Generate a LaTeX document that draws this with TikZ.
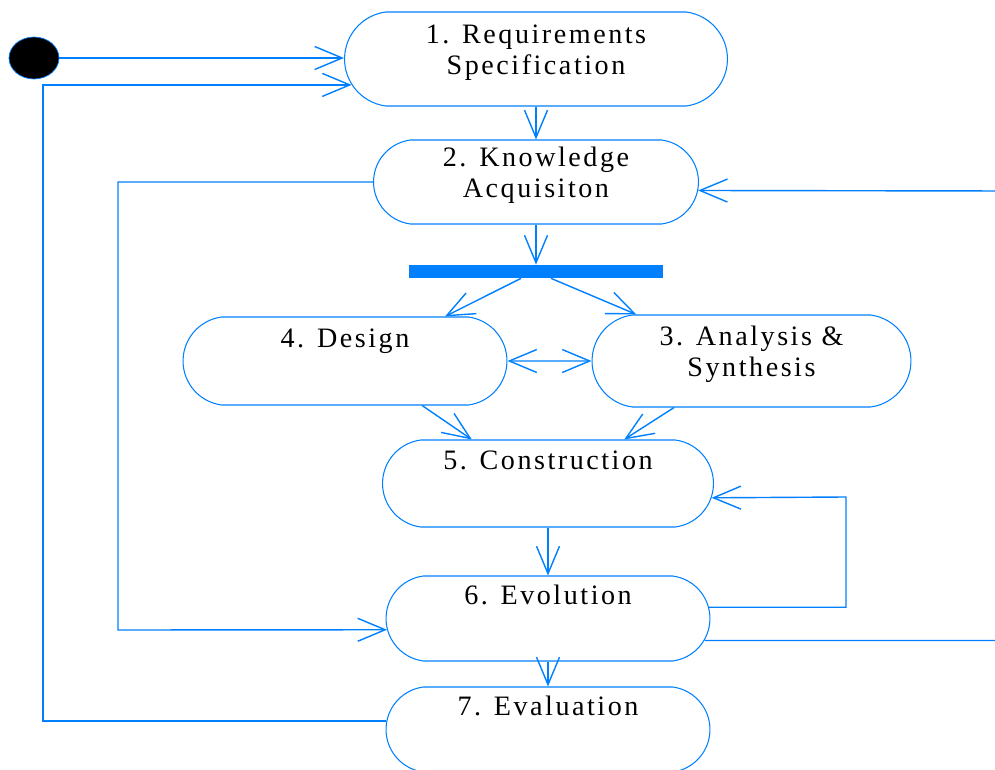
\documentclass[tikz,border=0pt]{standalone}
\usepackage{fontspec}
\newfontfamily\statefont[LetterSpace=9]{Liberation Serif}
\usetikzlibrary{arrows.meta,shapes.misc,shapes.geometric}
\definecolor{umlblue}{RGB}{0,128,255}

\begin{document}
\begin{tikzpicture}[
  x=0.02cm, y=-0.02cm,
  font=\statefont\fontsize{16pt}{18.1pt}\selectfont,
  >={Straight Barb[length=0.55cm,width=0.46cm]},
  state/.style={draw=umlblue, line width=0.6pt, rounded rectangle, rounded rectangle arc length=165,
    align=center, inner sep=0pt, text height=0.4cm, text depth=0.96cm},
  twoline/.style={state, text height=1.04cm, text depth=0.4cm},
  arrow/.style={->, draw=umlblue, line width=0.8pt}
]
\useasboundingbox (0,0) rectangle (995,770);

% Start point and fork bar
\node[ellipse, fill=black, draw=umlblue, minimum width=1cm, minimum height=0.84cm, inner sep=0pt] (start) at (34,58) {};
\node[fill=umlblue, minimum width=5.08cm, minimum height=0.26cm, inner sep=0pt] (fork) at (536,271.5) {};

% Activity states
\node[twoline, minimum width=7.66cm, minimum height=1.88cm] (req) at (536,59) {1. Requirements\\Specification};
\node[twoline, minimum width=6.5cm, minimum height=1.68cm] (know) at (536,182) {2. Knowledge\\Acquisiton};
\node[state, minimum width=6.48cm, minimum height=1.76cm] (design) at (345,361) {4. Design};
\node[twoline, minimum width=6.38cm, minimum height=1.84cm] (analysis) at (751.5,361) {3. Analysis \&\\Synthesis};
\node[state, minimum width=6.62cm, minimum height=1.74cm] (constr) at (548,483.5) {5. Construction};
\node[state, minimum width=6.48cm, minimum height=1.7cm] (evol) at (548,618.5) {6. Evolution};
\node[state, minimum width=6.48cm, minimum height=1.7cm] (evalu) at (548,729.5) {7. Evaluation};

% Loop corners
\coordinate (loopA) at (43,86);
\coordinate (loopB) at (118,630);
\coordinate (loopC) at (1010,191);
\coordinate (loopD) at (846,497);

% Main flow
\draw[arrow] (start) -- (start -| req.west);
\draw[arrow] (req.south) -- (know.north);
\draw[arrow] (know.south) -- (fork.north);
\draw[arrow] ([xshift=-0.3cm]fork.south) -- (design.24);
\draw[arrow] ([xshift=0.3cm]fork.south) -- (analysis.158);
\draw[arrow, <->] (design) -- (analysis);
\draw[arrow] (design.330) -- (constr.150);
\draw[arrow] (analysis.211) -- (constr.30);
\draw[arrow] (constr.south) -- (evol.north);
\draw[arrow] (evol.south) -- (evalu.north);

% Feedback lines
\draw[arrow] (evalu.177) -| (loopA) |- (req.188);
\draw[arrow] (know.west) -| (loopB) -- (evol.184);
\draw[arrow] (evol.352) -| (loopC) -- (know.357);
\draw[arrow] (evol.4) -| (loopD) -- (constr.355);

\end{tikzpicture}
\end{document}
